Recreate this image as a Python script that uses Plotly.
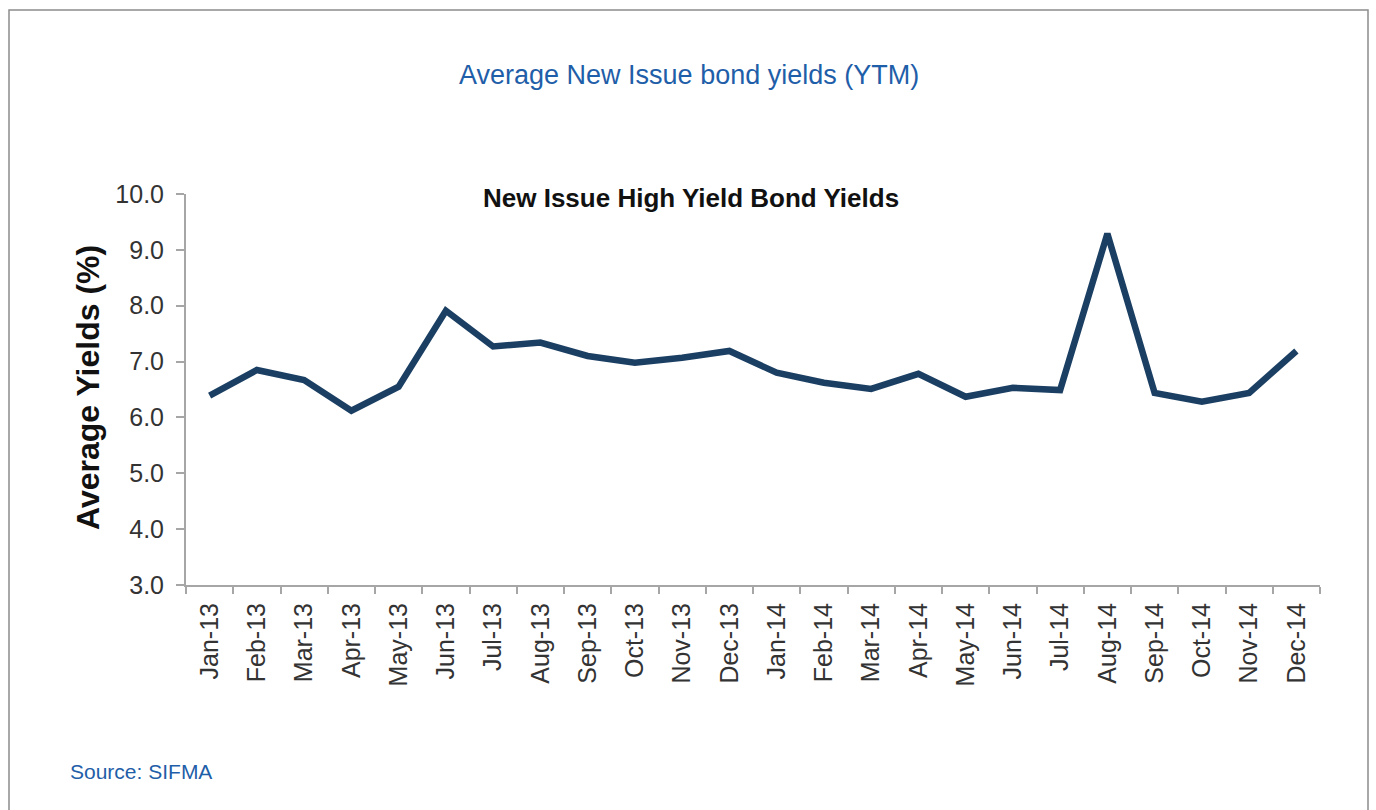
import plotly.graph_objects as go

months = ["Jan-13", "Feb-13", "Mar-13", "Apr-13", "May-13", "Jun-13", "Jul-13", "Aug-13",
          "Sep-13", "Oct-13", "Nov-13", "Dec-13", "Jan-14", "Feb-14", "Mar-14", "Apr-14",
          "May-14", "Jun-14", "Jul-14", "Aug-14", "Sep-14", "Oct-14", "Nov-14", "Dec-14"]
yields = [6.39, 6.85, 6.67, 6.12, 6.55, 7.91, 7.27, 7.34, 7.10, 6.98, 7.07, 7.19,
          6.80, 6.62, 6.51, 6.78, 6.37, 6.53, 6.49, 9.29, 6.44, 6.28, 6.44, 7.19]
y_ticks = [3, 4, 5, 6, 7, 8, 9, 10]

W, H = 1376, 810
L, R, T, B = 186, 56, 194, 225
pw, ph = W - L - R, H - T - B

def px(x):
    return (x - L) / pw

def py(y):
    return (H - B - y) / ph

FONT = "Liberation Sans, Arial, sans-serif"
BLUE = "#1f5ea8"

fig = go.Figure()
fig.add_trace(go.Scatter(
    x=months, y=yields, mode="lines",
    line=dict(color="#1b3f63", width=6.5, shape="linear"),
    hoverinfo="x+y", showlegend=False,
))

fig.update_layout(
    width=W, height=H,
    margin=dict(l=L, r=R, t=T, b=B),
    paper_bgcolor="white", plot_bgcolor="white",
    font=dict(family=FONT, color="#333333"),
    xaxis=dict(
        type="category", range=[-0.5, 23.5],
        showline=True, linecolor="#a6a6a6", linewidth=2,
        ticks="outside", tickson="boundaries", ticklen=7, tickcolor="#a6a6a6", tickwidth=2,
        tickangle=-90, tickfont=dict(size=25, color="#333333", family=FONT),
        ticklabelstandoff=6,
        showgrid=False, zeroline=False,
    ),
    yaxis=dict(
        range=[3, 10], tickvals=y_ticks, tickformat=".1f",
        showline=True, linecolor="#a6a6a6", linewidth=2,
        ticks="outside", ticklen=8, tickcolor="#a6a6a6", tickwidth=2,
        tickfont=dict(size=25, color="#333333", family=FONT),
        ticklabelstandoff=7,
        showgrid=False, zeroline=False,
    ),
    annotations=[
        dict(text="Average New Issue bond yields (YTM)", xref="paper", yref="paper",
             x=px(689), y=py(75), xanchor="center", yanchor="middle", showarrow=False,
             font=dict(size=27, color=BLUE, family=FONT)),
        dict(text="<b>New Issue High Yield Bond Yields</b>", xref="paper", yref="paper",
             x=px(691), y=py(198), xanchor="center", yanchor="middle", showarrow=False,
             font=dict(size=26, color="#111111", family=FONT)),
        dict(text="<b>Average Yields (%)</b>", xref="paper", yref="paper",
             x=px(88), y=py(388), xanchor="center", yanchor="middle", showarrow=False,
             textangle=-90, font=dict(size=32, color="#111111", family=FONT)),
        dict(text="Source: SIFMA", xref="paper", yref="paper",
             x=px(68), y=py(771), xanchor="left", yanchor="middle", showarrow=False,
             font=dict(size=21, color=BLUE, family=FONT)),
    ],
    shapes=[
        dict(type="rect", xref="paper", yref="paper",
             x0=px(9), x1=px(1368), y0=py(830), y1=py(10),
             line=dict(color="#8c8c8c", width=1.5), fillcolor="rgba(0,0,0,0)", layer="below"),
    ],
)

fig.write_html("out.html")
